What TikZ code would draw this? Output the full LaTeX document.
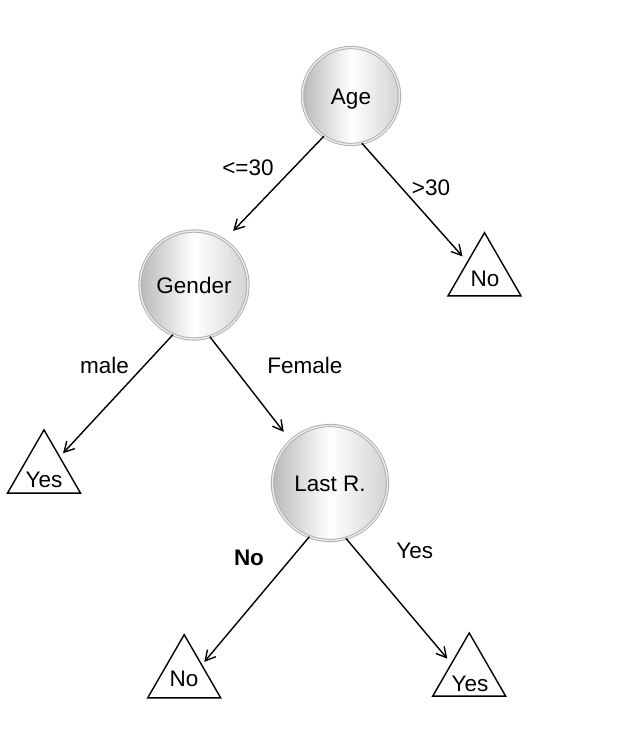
\documentclass[tikz,border=0pt]{standalone}
\usepackage{fontspec}
\setmainfont{Liberation Sans}
\usetikzlibrary{arrows.meta,shapes.geometric}
\tikzset{
  dnode/.style={circle, inner sep=0pt, outer sep=0pt,
    left color=gray!55, right color=gray!35, middle color=white,
    draw=gray!65, line width=0.9pt, double=gray!15, double distance=1.4pt,
    text height=16pt, text depth=0pt, text=black,
    font=\fontsize{22.5}{27}\selectfont},
  leaf/.style={regular polygon, regular polygon sides=3, minimum size=84.3pt,
    inner sep=0pt, outer sep=0pt, draw=black, line width=1.4pt},
  txt/.style={font=\fontsize{22.5}{27}\selectfont, inner sep=0pt, anchor=base, text=black},
  arr/.style={-{Straight Barb[length=10pt,width=11pt]}, line width=1.4pt}
}
\begin{document}
\begin{tikzpicture}[x=1pt,y=-1pt]
\useasboundingbox (0,0) rectangle (620,732);
\fill[white] (0,0) rectangle (620,732);
% decision nodes
\node[dnode, minimum size=97pt]  (age)    at (351,96)  {Age};
\node[dnode, minimum size=108pt] (gender) at (194,285) {Gender};
\node[dnode, minimum size=115pt] (last)   at (330,483) {Last R.};
% leaves
\node[leaf] (no1)  at (484.5,274.8) {};
\node[leaf] (yes1) at (44,472)      {};
\node[leaf] (no2)  at (184.2,676.8) {};
\node[leaf] (yes2) at (469.2,675.1) {};
\node[txt] (no1t)  at (485,286.7) {No};
\node[txt] (yes1t) at (44,487.7)  {Yes};
\node[txt] (no2t)  at (184,686)   {No};
\node[txt] (yes2t) at (470,691.7) {Yes};
% edges
\draw[arr, shorten >=13pt]  (age.-124)   -- (gender.56);
\draw[arr, shorten >=7.5pt] (age.-77)    -- (no1.143);
\draw[arr, shorten >=5pt]   (gender.-113) -- (yes1.44);
\draw[arr, shorten >=11.5pt] (gender.-73) -- (last.133);
\draw[arr, shorten >=4pt]   (last.-111)  -- (no2.34);
\draw[arr, shorten >=6.5pt] (last.-74)   -- (yes2.147);
% edge labels
\node[txt] (l1) at (248,175)   {<=30};
\node[txt] (l2) at (431,195)   {>30};
\node[txt] (l3) at (104.5,373) {male};
\node[txt] (l4) at (305,373)   {Female};
\node[txt, font=\fontsize{22.5}{27}\selectfont\bfseries] (l5) at (249,565.5) {No};
\node[txt] (l6) at (414.7,558) {Yes};
\end{tikzpicture}
\end{document}
